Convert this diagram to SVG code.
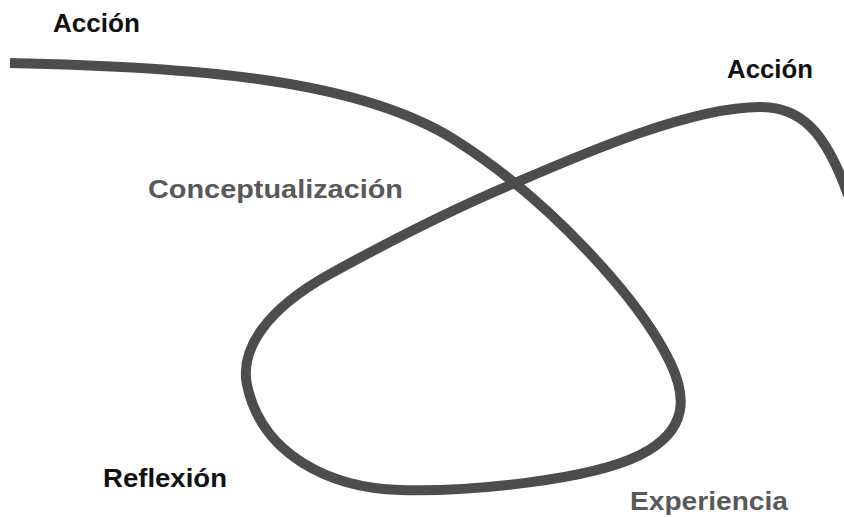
<svg xmlns="http://www.w3.org/2000/svg" width="844" height="517" viewBox="0 0 844 517">
<style>
.curve{fill:none;stroke:#4d4d4d;stroke-width:10;stroke-linecap:butt;stroke-linejoin:round}
.lbl{font-family:"Liberation Sans",Arial,sans-serif;font-weight:bold;font-size:26px}
.dark{fill:#111}
.gray{fill:#595959}
</style>
<rect width="844" height="517" fill="#fff"/>
<g id="connectors">
<path class="curve" d="M10,63 C200,67 360,80 455,140 C550,200 640,300 670,362 C686,395 690,430 640,455 C590,480 470,492 400,490 C330,488 262,455 247,385 C240,350 265,310 330,274 C390,241 450,210 515,183 C580,155 690,107 760,107 C800,107 825,130 848,195"/>
</g>
<g id="accion-1"><text class="lbl dark" x="53" y="32" textLength="87" lengthAdjust="spacingAndGlyphs">Acción</text></g>
<g id="accion-2"><text class="lbl dark" x="727" y="78" textLength="86" lengthAdjust="spacingAndGlyphs">Acción</text></g>
<g id="conceptualizacion"><text class="lbl gray" x="148" y="198" textLength="255" lengthAdjust="spacingAndGlyphs">Conceptualización</text></g>
<g id="reflexion"><text class="lbl dark" x="103" y="487" textLength="124" lengthAdjust="spacingAndGlyphs">Reflexión</text></g>
<g id="experiencia"><text class="lbl gray" x="630" y="510" textLength="158" lengthAdjust="spacingAndGlyphs">Experiencia</text></g>
</svg>
